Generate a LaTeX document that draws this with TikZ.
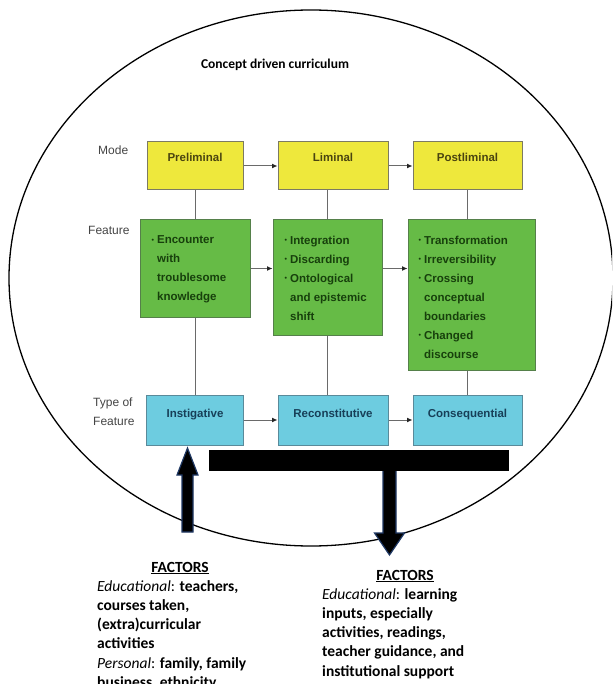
\documentclass[tikz,border=0pt]{standalone}
\usepackage{fontspec}
\setmainfont{Carlito}
\newfontfamily\diagfont{Liberation Sans}
\usetikzlibrary{arrows.meta}

\definecolor{yelfill}{HTML}{EEE83C}
\definecolor{yelline}{HTML}{7C7A62}
\definecolor{yeltext}{HTML}{4A4410}
\definecolor{grnfill}{HTML}{66BB46}
\definecolor{grnline}{HTML}{55804A}
\definecolor{grntext}{HTML}{17400C}
\definecolor{cyafill}{HTML}{6DCCE0}
\definecolor{cyaline}{HTML}{5A8A9A}
\definecolor{cyatext}{HTML}{173F58}
\definecolor{linkgray}{HTML}{6A6A6A}
\definecolor{rowgray}{HTML}{444444}
\definecolor{arrowedge}{HTML}{1F3864}

% bullet used inside the feature boxes, and an equal indent for wrapped lines
\newcommand\bul{{\fontsize{7}{7}\selectfont\raisebox{1.2pt}{•}}\hspace{3pt}}
\newcommand\ind{\phantom{\bul}}

\begin{document}
\begin{tikzpicture}[x=1pt,y=-1pt,
  box/.style={draw=#1line, fill=#1fill, line width=1pt, inner sep=0pt},
  boxtext/.style={font=\diagfont\bfseries\fontsize{11.5}{19}\selectfont, text=#1text, inner sep=0pt},
  listtext/.style={boxtext=#1, align=left, anchor=north west},
  rowlabel/.style={font=\diagfont\fontsize{12}{19}\selectfont, text=rowgray, inner sep=0pt, align=left},
  link/.style={draw=linkgray, line width=1pt},
  flow/.style={link, -{Latex[length=5.5pt,width=5pt,color=black!85]}},
  factors/.style={font=\fontsize{15.5}{19.3}\selectfont, inner sep=0pt, align=left, anchor=north west},
  bigarrow/.style={fill=black, draw=arrowedge, line width=1.2pt, line join=miter}
]
\useasboundingbox (0,0) rectangle (612,684);
\clip (0,0) rectangle (612,684);

% outer boundary of the curriculum
\draw[line width=1.3pt] (311,278) ellipse [x radius=302pt, y radius=268pt];
\node[font=\bfseries\fontsize{13.5}{16}\selectfont, inner sep=0pt, anchor=base] (title) at (275,69) {Concept driven curriculum};

% row labels
\node[rowlabel, anchor=base west] (lmode) at (98,154.5) {Mode};
\node[rowlabel, anchor=base west] (lfeat) at (88,234.5) {Feature};
\node[rowlabel, anchor=north west] (ltype) at (93,397.5) {Type of\\Feature};

% mode row
\node[box=yel, minimum width=96pt, minimum height=48pt] (pre)  at (195,166) {};
\node[box=yel, minimum width=110pt, minimum height=48pt] (lim)  at (333,166) {};
\node[box=yel, minimum width=109pt, minimum height=48pt] (post) at (467.5,166) {};
\node[boxtext=yel, anchor=base] (pret)  at (195,162) {Preliminal};
\node[boxtext=yel, anchor=base] (limt)  at (333,162) {Liminal};
\node[boxtext=yel, anchor=base] (postt) at (467.5,162) {Postliminal};

% feature row
\node[box=grn, minimum width=110pt, minimum height=97pt]  (f1) at (195,268.5) {};
\node[box=grn, minimum width=109pt, minimum height=115pt] (f2) at (327.5,277.5) {};
\node[box=grn, minimum width=127pt, minimum height=150pt] (f3) at (471.5,295) {};
\node[listtext=grn] (f1t) at (151.5,235.5) {\bul Encounter\\\ind with\\\ind troublesome\\\ind knowledge};
\node[listtext=grn] (f2t) at (284.5,235.5) {\bul Integration\\\bul Discarding\\\bul Ontological\\\ind and epistemic\\\ind shift};
\node[listtext=grn] (f3t) at (418.5,235.5) {\bul Transformation\\\bul Irreversibility\\\bul Crossing\\\ind conceptual\\\ind boundaries\\\bul Changed\\\ind discourse};

% type-of-feature row
\node[box=cya, minimum width=97pt, minimum height=50pt]  (cy1) at (194.5,420) {};
\node[box=cya, minimum width=110pt, minimum height=50pt] (cy2) at (333,420) {};
\node[box=cya, minimum width=109pt, minimum height=50pt] (cy3) at (467.5,420.5) {};
\node[boxtext=cya, anchor=base] (cy1t) at (195,417) {Instigative};
\node[boxtext=cya, anchor=base] (cy2t) at (333,417) {Reconstitutive};
\node[boxtext=cya, anchor=base] (cy3t) at (467.5,417.5) {Consequential};

% vertical links between rows
\draw[link] (pre.south) -- (f1.north);
\draw[link] (f1.south) -- (f1.south |- cy1.north);
\draw[link] (f2.north) -- (f2.north |- lim.south);
\draw[link] (f2.south) -- (f2.south |- cy2.north);
\draw[link] (post.south) -- (post.south |- f3.north);
\draw[link] (f3.south -| post.south) -- (post.south |- cy3.north);

% horizontal flow arrows
\draw[flow] (pre.east) -- (lim.west);
\draw[flow] (lim.east) -- (post.west);
\draw[flow] (f1.east) -- (f1.east -| f2.west);
\draw[flow] (f1.east -| f2.east) -- (f1.east -| f3.west);
\draw[flow] (cy1.east) -- (cy1.east -| cy2.west);
\draw[flow] (cy2.east) -- (cy2.east -| cy3.west);

% bar and the two block arrows
\fill (209,450) rectangle (509,471);
\draw[bigarrow] (182,532) -- (182,475) -- (177,475) -- (187.5,448) -- (198,475) -- (193,475) -- (193,532) -- cycle;
\draw[bigarrow] (383,471) -- (383,533) -- (374.5,533) -- (389.5,555) -- (404.5,533) -- (396,533) -- (396,471);

% factor lists
\node[font=\bfseries\fontsize{15.5}{19}\selectfont, inner sep=0pt, anchor=base] (fac1) at (180,572) {\underline{FACTORS}};
\node[factors] (fac1t) at (97,580) {\textit{Educational}: \textbf{teachers,}\\\textbf{courses taken,}\\\textbf{(extra)curricular}\\\textbf{activities}\\\textit{Personal}: \textbf{family, family}\\\textbf{business, ethnicity}};
\node[font=\bfseries\fontsize{15.5}{19}\selectfont, inner sep=0pt, anchor=base] (fac2) at (405,580) {\underline{FACTORS}};
\node[factors] (fac2t) at (322,588) {\textit{Educational}: \textbf{learning}\\\textbf{inputs, especially}\\\textbf{activities, readings,}\\\textbf{teacher guidance, and}\\\textbf{institutional support}};
\end{tikzpicture}
\end{document}
